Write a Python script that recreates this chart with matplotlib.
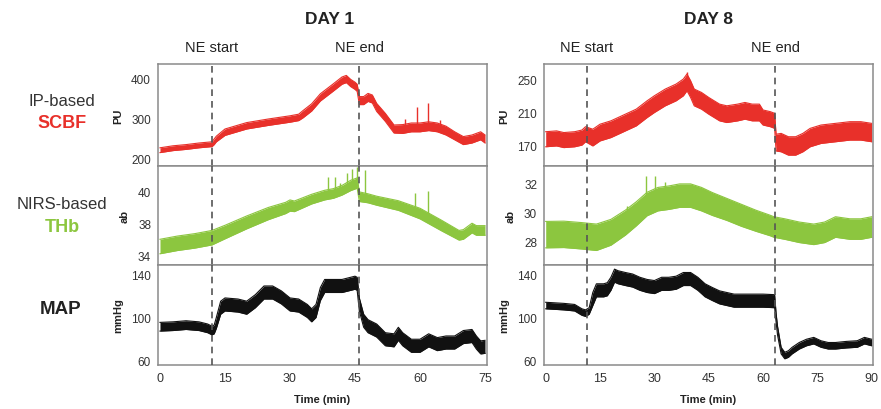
import matplotlib
matplotlib.use("Agg")
import matplotlib.pyplot as plt
import numpy as np

plt.rcParams['font.family'] = ['Liberation Sans', 'DejaVu Sans']

RED = '#e8302a'
GREEN = '#8cc63f'
BLACK = '#111111'
SPINE = '#8a8a8a'
DASH = '#555555'

# ---------------- DAY 1 ----------------
d1_ne = [12.0, 46.0]
d1_xticks = [0, 15, 30, 45, 60, 75]

d1_scbf_t = [0, 3, 6, 9, 12, 12.5, 13, 15, 20, 25, 30, 32, 33, 35, 37, 40, 42, 43, 44, 45,
             45.5, 46, 47, 48, 49, 50, 52, 54, 56, 58, 60, 62, 64, 66, 68, 70, 72, 74, 75]
d1_scbf = [222, 227, 230, 234, 237, 243, 250, 267, 283, 292, 300, 304, 312, 329, 354, 379, 396, 400, 390, 383,
           378, 346, 346, 354, 350, 329, 304, 275, 275, 279, 279, 282, 279, 271, 258, 246, 250, 258, 250]
d1_scbf_hw = [6, 6, 6, 6, 6, 7, 7, 8, 8, 8, 8, 8, 9, 9, 9, 9, 9, 9, 9, 9,
              9, 10, 10, 10, 10, 10, 10, 10, 11, 11, 11, 11, 11, 11, 10, 10, 10, 10, 10]
d1_scbf_spk_t = [56.5, 59.2, 61.8, 64.5]
d1_scbf_spk = [300, 329, 339, 298]
d1_scbf_yticks = [200, 300, 400]

d1_thb_t = [0, 4, 8, 12, 15, 20, 25, 29, 30, 31, 35, 38, 40, 42, 44, 45, 45.5, 46, 48, 50,
            55, 60, 65, 69, 70, 72, 73, 75]
d1_thb = [36.55, 36.75, 36.9, 37.1, 37.45, 38.05, 38.6, 38.95, 39.1, 39.05, 39.5, 39.75, 39.85, 40.05, 40.35,
          40.45, 40.5, 39.65, 39.55, 39.4, 39.1, 38.6, 37.85, 37.25, 37.3, 37.7, 37.55, 37.55]
d1_thb_hw = [0.45, 0.45, 0.45, 0.45, 0.42, 0.4, 0.38, 0.35, 0.35, 0.33, 0.3, 0.3, 0.3, 0.3, 0.32,
             0.32, 0.32, 0.3, 0.28, 0.28, 0.3, 0.33, 0.33, 0.3, 0.3, 0.3, 0.3, 0.3]
d1_thb_spk_t = [38.8, 40.4, 41.5, 43.1, 44.2, 45.4, 47.3, 58.8, 61.8]
d1_thb_spk = [40.9, 40.9, 40.5, 41.1, 41.4, 41.5, 41.3, 39.9, 40.0]
d1_thb_yticks = [36, 38, 40]
d1_thb_yticklabels = ['34', '38', '40']

d1_map_t = [0, 3, 6, 9, 11, 12, 12.5, 13, 14, 15, 18, 20, 22, 24, 26, 28, 30, 32, 34, 35,
            36, 37, 38, 40, 42, 44, 45, 45.5, 46, 47, 48, 50, 52, 54, 55, 56, 58, 60, 62, 64,
            66, 68, 70, 72, 73, 74, 75]
d1_map = [91.5, 92, 93, 92, 90, 88, 89, 95, 109, 112, 111, 109, 115, 123, 123, 118.5, 112, 111, 106, 102,
          106, 121.5, 129, 129, 129, 131, 132, 131, 112, 97, 92, 88, 80, 79, 85, 80, 74, 74, 79, 75.5,
          77, 77, 82, 83, 77, 72.5, 73]
d1_map_hw = [4, 4, 4, 4, 4, 4, 4, 5, 6, 6, 6, 6, 6, 6, 6, 6, 6, 6, 6, 6,
             6, 6, 6, 6, 6, 6, 6, 6, 6, 6, 6, 6, 6, 6, 6, 6, 6, 6, 6, 6,
             6, 6, 6, 6, 6, 6, 6]
map_yticks = [60, 100, 140]

# ---------------- DAY 8 ----------------
d8_ne = [11.3, 63.4]
d8_xticks = [0, 15, 30, 45, 60, 75, 90]

d8_scbf_t = [0, 3, 5, 8, 10, 11, 13, 15, 18, 20, 23, 25, 28, 30, 33, 36, 38, 39, 40, 41,
             43, 45, 48, 50, 53, 55, 57, 59, 60, 62, 63.2, 63.6, 65, 67, 69, 71, 73, 76, 80, 84,
             87, 90]
d8_scbf = [178, 179, 177, 178, 180, 184, 180, 186, 190, 194, 200, 204, 214, 220, 228, 234, 240, 246, 238, 228,
           224, 218, 210, 208, 210, 212, 210, 210, 204, 202, 200, 174, 174, 170, 170, 174, 180, 184, 186, 188,
           188, 186]
d8_scbf_hw = [9, 9, 9, 9, 9, 9, 10, 10, 10, 10, 10, 10, 10, 10, 10, 10, 10, 10, 10, 10,
              10, 10, 10, 10, 10, 10, 10, 10, 9, 9, 9, 10, 11, 11, 11, 11, 11, 11, 11, 11,
              11, 11]
d8_scbf_spk_t = [39.0]
d8_scbf_spk = [258]
d8_scbf_yticks = [170, 210, 250]

d8_thb_t = [0, 5, 10, 14, 18, 22, 25, 28, 31, 34, 37, 40, 43, 46, 50, 54, 58, 62, 63, 66,
            70, 74, 77, 80, 84, 87, 90]
d8_thb = [28.48, 28.5, 28.4, 28.3, 28.64, 29.3, 29.9, 30.57, 30.9, 31.0, 31.14, 31.14, 30.9, 30.57, 30.2,
          29.8, 29.43, 29.1, 29.0, 28.86, 28.64, 28.5, 28.64, 29.0, 28.86, 28.86, 29.0]
d8_thb_hw = [0.9, 0.9, 0.9, 0.9, 0.88, 0.85, 0.82, 0.8, 0.8, 0.8, 0.8, 0.8, 0.8, 0.78, 0.75,
             0.75, 0.72, 0.7, 0.7, 0.7, 0.7, 0.7, 0.7, 0.7, 0.7, 0.7, 0.7]
d8_thb_spk_t = [22.5, 27.7, 30.2, 33.0]
d8_thb_spk = [30.4, 32.5, 32.5, 32.05]
d8_thb_yticks = [28, 30, 32]

d8_map_t = [0, 5, 8, 10, 11, 12, 13, 14, 16, 17, 18, 19, 20, 22, 24, 26, 28, 30, 32, 34,
            36, 38, 40, 42, 44, 46, 48, 50, 52, 55, 58, 60, 63.2, 63.6, 64, 65, 66, 67, 68, 70,
            72, 74, 76, 78, 80, 83, 86, 88, 90]
d8_map = [111, 110, 109, 105, 104, 106, 117, 125, 125, 126, 131, 138.5, 137, 135.4, 134, 131, 129, 128, 131, 131,
          132, 135.4, 135.4, 131, 125, 121.6, 118.5, 117, 115.5, 115.5, 115.5, 115.5, 115, 100, 88, 69.5, 65, 66.4, 69.5, 74,
          77, 78.7, 75.6, 74, 74, 75, 75.6, 78.7, 77]
d8_map_hw = [3, 3, 3, 3, 3, 3] + [6] * 27 + [4, 4] + [3] * 14

# ---------------- Figure ----------------
W, H = 881, 410
fig = plt.figure(figsize=(W / 100, H / 100), dpi=100)


def rect(x0, y0, x1, y1):
    return [x0 / W, 1 - y1 / H, (x1 - x0) / W, (y1 - y0) / H]


rows = [(65, 167), (167, 266), (266, 366)]
panels = [(158, 487), (544, 873)]


def band(ax, t, c, hw, color, spk_t=None, spk=None, lw_spk=1.0):
    t = np.asarray(t, float)
    c = np.asarray(c, float)
    hw = np.asarray(hw, float)
    ax.fill_between(t, c - hw, c + hw, color=color, lw=0, zorder=2)
    ax.plot(t, c - hw, color=color, lw=0.8, zorder=2)
    ax.plot(t, c + hw, color=color, lw=0.8, zorder=2)
    if spk_t is not None:
        base = np.interp(spk_t, t, c)
        ax.vlines(spk_t, base, spk, color=color, lw=lw_spk, zorder=2)


def style(ax, xlim, xticks, ylim, yticks, yticklabels, ylabel, bottom):
    ax.set_xlim(*xlim)
    ax.set_ylim(*ylim)
    ax.set_yticks(yticks)
    ax.set_yticklabels(yticklabels if yticklabels else [str(v) for v in yticks], fontsize=8.5, color='#333333')
    ax.set_xticks(xticks)
    if bottom:
        ax.set_xticklabels([str(v) for v in xticks], fontsize=9, color='#333333')
    else:
        ax.set_xticklabels([])
    ax.tick_params(length=0, pad=5)
    for s in ax.spines.values():
        s.set_color(SPINE)
        s.set_linewidth(1.1)
    ax.set_ylabel(ylabel, fontsize=8, fontweight='bold', labelpad=6, color='#222222')


configs = [
    dict(xlim=(-0.46, 75.46), xticks=d1_xticks, ne=d1_ne,
         series=[
             (d1_scbf_t, d1_scbf, d1_scbf_hw, RED, d1_scbf_spk_t, d1_scbf_spk, (182.5, 437.5), d1_scbf_yticks, None, 'PU'),
             (d1_thb_t, d1_thb, d1_thb_hw, GREEN, d1_thb_spk_t, d1_thb_spk, (35.4, 41.56), d1_thb_yticks, d1_thb_yticklabels, 'ab'),
             (d1_map_t, d1_map, d1_map_hw, BLACK, None, None, (56.3, 148.3), map_yticks, None, 'mmHg'),
         ]),
    dict(xlim=(-0.47, 90.36), xticks=d8_xticks, ne=d8_ne,
         series=[
             (d8_scbf_t, d8_scbf, d8_scbf_hw, RED, d8_scbf_spk_t, d8_scbf_spk, (146, 268), d8_scbf_yticks, None, 'PU'),
             (d8_thb_t, d8_thb, d8_thb_hw, GREEN, d8_thb_spk_t, d8_thb_spk, (26.41, 33.16), d8_thb_yticks, None, 'ab'),
             (d8_map_t, d8_map, d8_map_hw, BLACK, None, None, (56.3, 148.3), map_yticks, None, 'mmHg'),
         ]),
]

for (x0, x1), cfg in zip(panels, configs):
    for i, ((y0, y1), s) in enumerate(zip(rows, cfg['series'])):
        ax = fig.add_axes(rect(x0, y0, x1, y1))
        t, c, hw, col, st, sv, ylim, yt, ytl, yl = s
        band(ax, t, c, hw, col, st, sv)
        for ne in cfg['ne']:
            ax.axvline(ne, color=DASH, lw=1.2, ls=(0, (4, 3)), zorder=3)
        style(ax, cfg['xlim'], cfg['xticks'], ylim, yt, ytl, yl, bottom=(i == 2))
        if i == 2:
            ax.set_xlabel('Time (min)', fontsize=8, fontweight='bold', labelpad=7, color='#222222')
        if i == 0:
            for ne, lab in zip(cfg['ne'], ['NE start', 'NE end']):
                ax.annotate(lab, xy=(ne, 1), xycoords=('data', 'axes fraction'),
                            xytext=(0, 7), textcoords='offset points',
                            ha='center', va='bottom', fontsize=10.5, color='#222222')


def ftext(x, y, s, **kw):
    fig.text(x / W, 1 - y / H, s, ha='center', va='center', **kw)


ftext(330, 20, 'DAY 1', fontsize=12.5, fontweight='bold', color='#222222')
ftext(708, 20, 'DAY 8', fontsize=12.5, fontweight='bold', color='#222222')
ftext(62, 102, 'IP-based', fontsize=12, color='#333333')
ftext(62, 123, 'SCBF', fontsize=13, fontweight='bold', color=RED)
ftext(62, 205, 'NIRS-based', fontsize=12, color='#333333')
ftext(62, 227, 'THb', fontsize=13, fontweight='bold', color=GREEN)
ftext(61, 310, 'MAP', fontsize=13.5, fontweight='bold', color='#222222')

fig.savefig('out.png', dpi=100)
